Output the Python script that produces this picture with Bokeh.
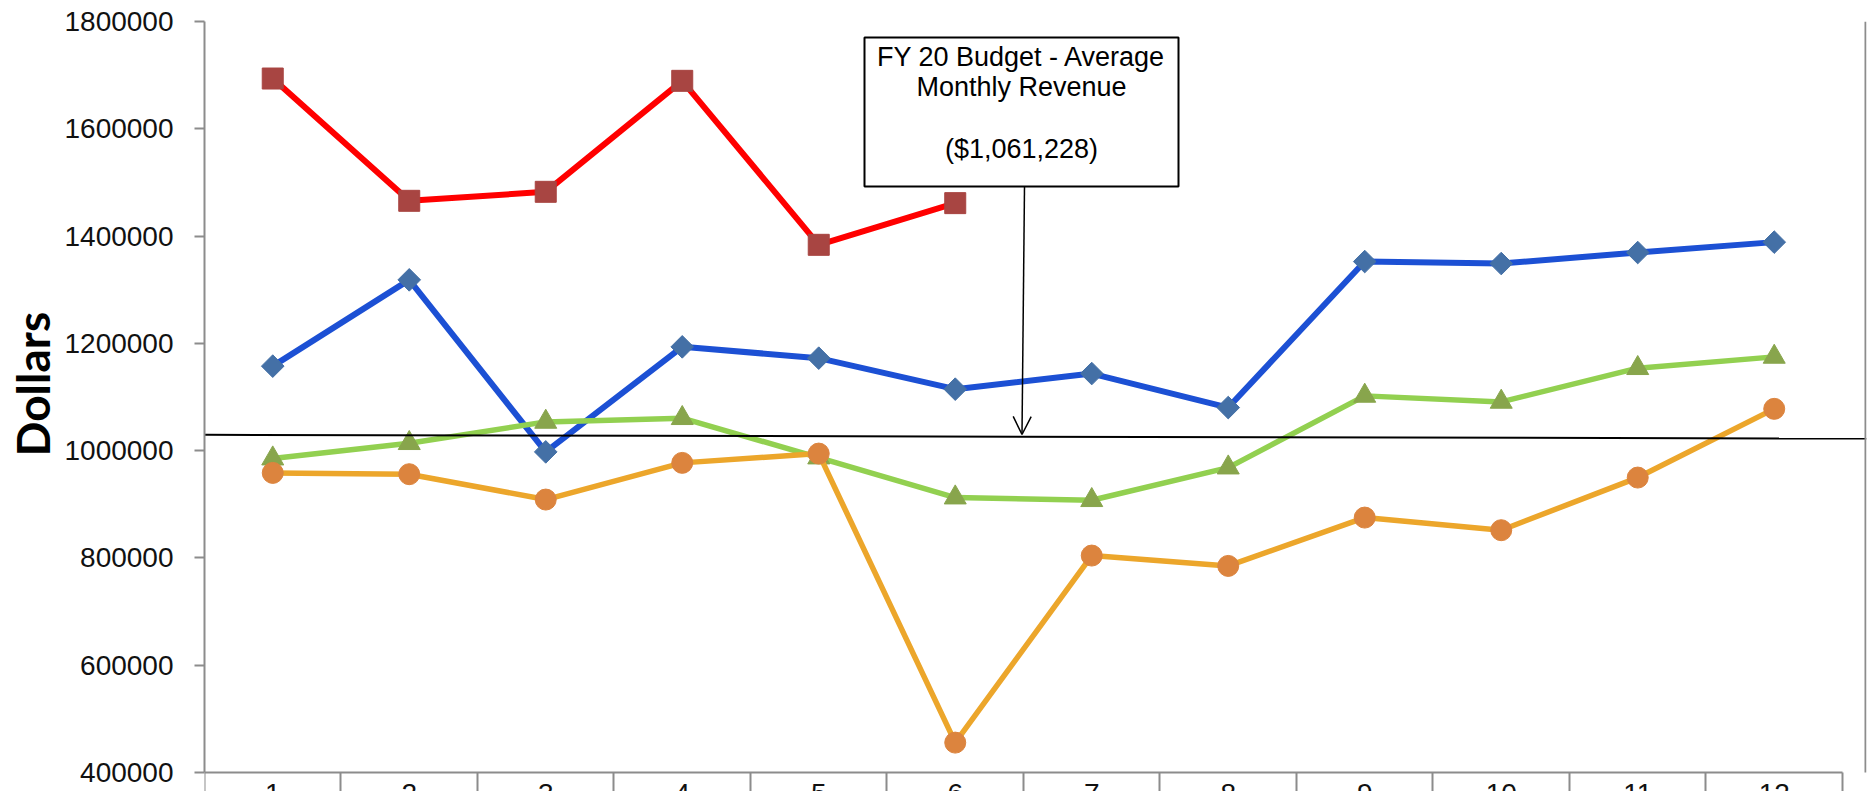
import math
from bokeh.plotting import figure
from bokeh.models import (Range1d, FixedTicker, BasicTickFormatter, Title,
                          Label, BoxAnnotation, Arrow, OpenHead)
from bokeh.embed import file_html
from bokeh.resources import INLINE

# ---- data -------------------------------------------------------------
months = [1, 2, 3, 4, 5, 6, 7, 8, 9, 10, 11, 12]
month_labels = [str(m) for m in months]

revenue_red = [1693700, 1465700, 1482500, 1689400, 1383700, 1461400]
revenue_blue = [1157500, 1318400, 997700, 1193500, 1172400, 1114600,
                1143700, 1080300, 1352500, 1348800, 1369300, 1388700]
revenue_green = [985200, 1013900, 1053600, 1060500, 987100, 912500,
                 907600, 968400, 1102100, 1090900, 1153700, 1174800]
revenue_orange = [958500, 956100, 908800, 977200, 994500, 455700,
                  804400, 785100, 875200, 851700, 949800, 1077900]

y_ticks = [400000, 600000, 800000, 1000000, 1200000, 1400000, 1600000, 1800000]

budget_text = "FY 20 Budget - Average\nMonthly Revenue\n\n($1,061,228)"
budget_line = [1029400, 1022500]   # hand-drawn reference line, left/right end

# ---- layout -----------------------------------------------------------
WIDTH, HEIGHT = 1868, 791
BORDER_LEFT, BORDER_RIGHT = 204, 2
BORDER_TOP = 21
AXIS_PX = 772            # page row of the value axis minimum
X_START, X_END = 0.5, 12.676
Y_MIN, Y_MAX = 400000, 1800000
Y_PER_PX = (Y_MAX - Y_MIN) / (AXIS_PX - BORDER_TOP)
Y_VIEW_START = Y_MIN - (HEIGHT - AXIS_PX) * Y_PER_PX   # frame runs to the page bottom
X_PER_PX = (X_END - X_START) / (WIDTH - BORDER_LEFT - BORDER_RIGHT)
AXIS_GREY = "#8c8c8c"
FONT = "Liberation Sans"


def at_x(px):
    """page x pixel -> data x (for placing annotations)"""
    return X_START + (px - BORDER_LEFT) * X_PER_PX


def at_y(px):
    """page y pixel (from top) -> data y (for placing annotations)"""
    return Y_MAX - (px - BORDER_TOP) * Y_PER_PX


p = figure(width=WIDTH, height=HEIGHT,
           x_range=Range1d(X_START, X_END), y_range=Range1d(Y_VIEW_START, Y_MAX),
           output_backend="svg", toolbar_location=None,
           min_border_left=BORDER_LEFT, min_border_right=BORDER_RIGHT,
           min_border_top=BORDER_TOP, min_border_bottom=0)
p.outline_line_color = None
p.grid.visible = False
p.background_fill_color = "white"
p.border_fill_color = "white"

# y axis
ya = p.yaxis[0]
ya.bounds = (Y_MIN, Y_MAX)
ya.ticker = FixedTicker(ticks=y_ticks, minor_ticks=[])
ya.formatter = BasicTickFormatter(use_scientific=False)
ya.major_label_text_font = FONT
ya.major_label_text_font_size = "28px"
ya.major_label_text_color = "#111111"
ya.major_label_standoff = 21
ya.major_tick_out = 10
ya.major_tick_in = 0
ya.minor_tick_out = 0
ya.minor_tick_in = 0
ya.axis_line_color = AXIS_GREY
ya.axis_line_width = 2
ya.major_tick_line_color = AXIS_GREY
ya.major_tick_line_width = 2

# y axis title, set in the left border and centred on the value axis
p.add_layout(Title(text="Dollars", align="left", offset=HEIGHT - 456,
                   vertical_align="bottom", standoff=4,
                   text_font="Lato", text_font_style="bold",
                   text_font_size="46px", text_color="#000000"), "left")

# x axis: pinned at the value-axis minimum, month numbers at the centres,
# category boundaries as (minor) tick marks hanging below
xa = p.xaxis[0]
boundaries = [m - 0.5 for m in months] + [months[-1] + 0.5]
xa.fixed_location = Y_MIN
xa.bounds = (boundaries[0], boundaries[-1])
xa.ticker = FixedTicker(ticks=months, minor_ticks=boundaries)
xa.major_label_overrides = {m: t for m, t in zip(months, month_labels)}
xa.major_label_text_font = FONT
xa.major_label_text_font_size = "28px"
xa.major_label_text_color = "#111111"
xa.major_label_standoff = -8
xa.major_tick_out = 0
xa.major_tick_in = 0
xa.major_tick_line_color = None
xa.minor_tick_out = HEIGHT - AXIS_PX
xa.minor_tick_in = 0
xa.minor_tick_line_color = AXIS_GREY
xa.minor_tick_line_width = 2
xa.axis_line_color = AXIS_GREY
xa.axis_line_width = 2

# ---- series -----------------------------------------------------------
p.line(months[:len(revenue_red)], revenue_red, line_color="#FF0000", line_width=6)
p.scatter(months[:len(revenue_red)], revenue_red, marker="square", size=21,
          fill_color="#A84542", line_color="#A84542")

p.line(months, revenue_blue, line_color="#1C50D4", line_width=6)
p.scatter(months, revenue_blue, marker="square", angle=math.pi / 4, size=16,
          fill_color="#4470A6", line_color="#4470A6")

p.line(months, revenue_green, line_color="#92D050", line_width=5.5)
p.scatter(months, revenue_green, marker="triangle", size=22,
          fill_color="#88A54C", line_color="#88A54C")

p.line(months, revenue_orange, line_color="#ECA62B", line_width=5.5)
p.scatter(months, revenue_orange, marker="circle", size=21,
          fill_color="#DC843E", line_color="#DC843E")

# budget reference line
p.segment(x0=[X_START], y0=[budget_line[0]], x1=[X_END], y1=[budget_line[1]],
          line_color="black", line_width=2)

# right border of the plot area
p.segment(x0=[at_x(WIDTH - 3)], y0=[Y_MIN], x1=[at_x(WIDTH - 3)], y1=[Y_MAX],
          line_color=AXIS_GREY, line_width=2)

# ---- callout ----------------------------------------------------------
p.add_layout(BoxAnnotation(left=at_x(864), right=at_x(1178), top=at_y(37), bottom=at_y(186),
                           fill_color="white", fill_alpha=1.0,
                           line_color="black", line_width=2, line_alpha=1.0))
p.add_layout(Label(x=at_x(1021), y=at_y(41), text=budget_text, text_align="center",
                   text_baseline="top", text_font=FONT, text_font_size="27px",
                   text_line_height=1.03, text_color="#000000"))
p.add_layout(Arrow(end=OpenHead(size=18, line_width=1.5, line_color="black"),
                   x_start=at_x(1024), y_start=at_y(186), x_end=at_x(1021.5), y_end=at_y(434),
                   line_color="black", line_width=1.5))

open("out.html", "w").write(file_html(p, INLINE))
